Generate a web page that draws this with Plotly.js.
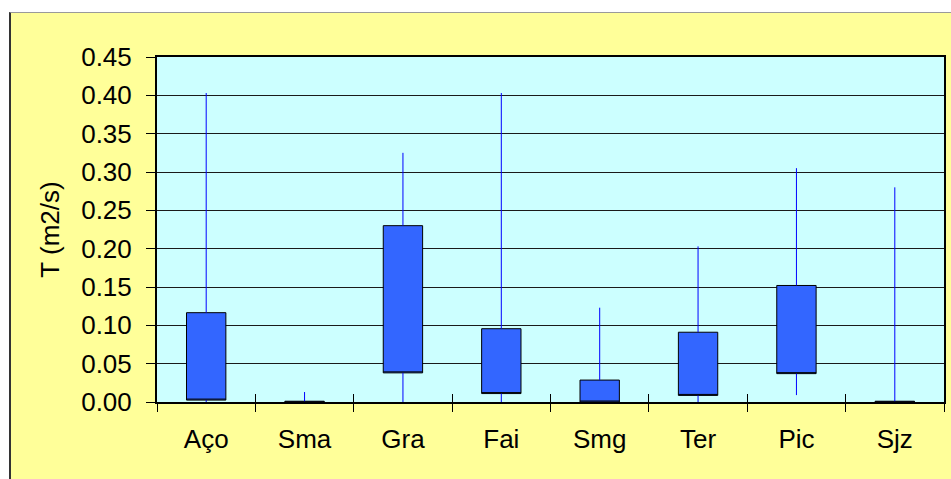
<!DOCTYPE html>
<html>
<head>
<meta charset="utf-8">
<script src="https://cdn.plot.ly/plotly-3.0.1.min.js"></script>
<style>
  html, body { margin: 0; padding: 0; background: #ffffff; overflow: hidden; }
  #wrap { position: relative; width: 951px; height: 479px; background: #ffffff; overflow: hidden; }
  #frame { position: absolute; left: 9px; top: 12px; width: 960px; height: 480px;
           background: #FFFF99; border-left: 2px solid #333333; border-top: 1px solid #9a9a9a; }
  #chart { position: absolute; left: 0; top: 0; width: 951px; height: 479px; }
</style>
</head>
<body>
<div id="wrap">
  <div id="frame"></div>
  <div id="chart"></div>
</div>
<script>
// Data (T in m2/s)
const categories = ["Aço", "Sma", "Gra", "Fai", "Smg", "Ter", "Pic", "Sjz"];
const minValues  = [0.000, 0.000, 0.000, 0.000, 0.000, 0.000, 0.009, 0.000];
const q1Values   = [0.0025, 0.000, 0.038, 0.011, 0.000, 0.0086, 0.037, 0.000];
const q3Values   = [0.1165, 0.001, 0.230, 0.0956, 0.0286, 0.091, 0.152, 0.001];
const maxValues  = [0.403, 0.013, 0.325, 0.403, 0.123, 0.203, 0.305, 0.280];
const yTickVals  = [0, 0.05, 0.10, 0.15, 0.20, 0.25, 0.30, 0.35, 0.40, 0.45];
const yTickText  = ["0.00","0.05","0.10","0.15","0.20","0.25","0.30","0.35","0.40","0.45"];

// whisker segments (min -> q1 and q3 -> max) for each category
const wx = [], wy = [];
categories.forEach((c, i) => {
  wx.push(c, c, null, c, c, null);
  wy.push(minValues[i], q1Values[i], null, q3Values[i], maxValues[i], null);
});

const whiskers = {
  type: 'scatter', mode: 'lines', x: wx, y: wy,
  line: { color: '#0000FF', width: 1 }, hoverinfo: 'skip', showlegend: false
};

const boxes = {
  type: 'box', x: categories,
  q1: q1Values, median: q1Values, q3: q3Values,
  lowerfence: q1Values, upperfence: q3Values,
  fillcolor: '#3366FF', line: { color: '#000000', width: 1 },
  whiskerwidth: 0, width: 0.4, boxpoints: false, showlegend: false
};

// inside ticks on the category boundaries (second overlaid axis)
const boundaries = [];
for (let i = 0; i <= categories.length; i++) boundaries.push(i - 0.5);

const font = { family: 'Liberation Sans, Arial, sans-serif', color: '#000000' };

const layout = {
  width: 951, height: 479,
  margin: { l: 157, r: 7, t: 57, b: 77, pad: 0 },
  paper_bgcolor: 'rgba(0,0,0,0)',
  plot_bgcolor: '#CCFFFF',
  showlegend: false,
  font: font,
  xaxis: {
    type: 'category', categoryarray: categories, range: [-0.5, 7.5],
    tickson: 'boundaries', ticks: 'outside', ticklen: 8, tickwidth: 1, tickcolor: '#000000',
    showgrid: false, showline: true, linecolor: '#000000', linewidth: 2, mirror: true,
    tickfont: { size: 26, family: font.family, color: '#000000' },
    ticklabelstandoff: 13, zeroline: false
  },
  xaxis2: {
    overlaying: 'x', type: 'linear', range: [-0.5, 7.5],
    tickmode: 'array', tickvals: boundaries, ticks: 'inside', ticklen: 8, tickwidth: 1,
    tickcolor: '#000000', showticklabels: false, showgrid: false, showline: false, zeroline: false
  },
  yaxis: {
    range: [0, 0.45], tickmode: 'array', tickvals: yTickVals, ticktext: yTickText,
    ticks: 'outside', ticklen: 9, tickwidth: 1, tickcolor: '#000000',
    showgrid: true, gridcolor: '#1a1a1a', gridwidth: 1,
    showline: true, linecolor: '#000000', linewidth: 2, mirror: true, zeroline: false,
    tickfont: { size: 26, family: font.family, color: '#000000' },
    ticklabelstandoff: 9,
    title: { text: 'T (m2/s)', font: { size: 26, family: font.family, color: '#000000' }, standoff: 14 }
  }
};

// invisible helper trace to activate xaxis2
const helper = { type: 'scatter', mode: 'lines', x: [-0.5, 7.5], y: [0, 0], xaxis: 'x2',
                 line: { width: 0, color: 'rgba(0,0,0,0)' }, hoverinfo: 'skip', showlegend: false };

Plotly.newPlot('chart', [helper, whiskers, boxes], layout, { staticPlot: true, displayModeBar: false });
</script>
</body>
</html>
